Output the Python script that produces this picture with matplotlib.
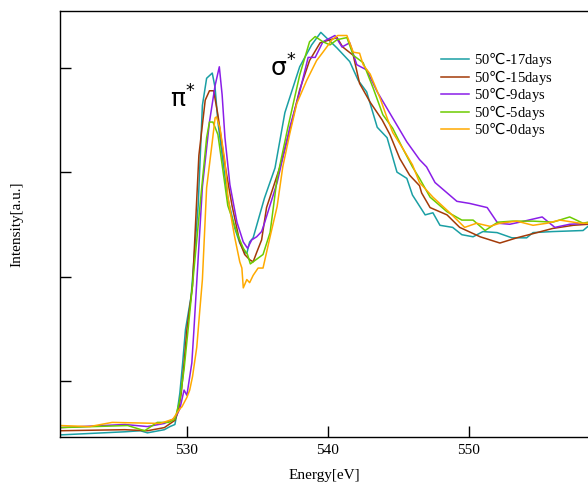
import matplotlib
matplotlib.use('Agg')
import matplotlib.pyplot as plt

plt.rcParams['font.family'] = ['Liberation Serif', 'DejaVu Sans']
plt.rcParams['mathtext.fontset'] = 'dejavusans'

# 50C-17days
e17 = [521.0, 525.6, 526.7, 527.2, 528.4, 528.8, 529.15, 529.3, 529.5, 529.7, 529.9, 530.3,
       530.8, 531.1, 531.4, 531.8, 532.0, 532.2, 532.5, 532.9, 533.4, 533.75, 534.1, 534.25,
       534.45, 534.7, 535.5, 536.25, 536.95, 538.0, 538.85, 539.5, 540.65, 541.55, 542.15,
       542.75, 543.5, 544.2, 544.9, 545.6, 546.0, 546.9, 547.45, 547.95, 548.85, 549.5,
       550.3, 551.0, 552.0, 553.05, 554.1, 554.55, 555.95, 558.1, 558.45]
i17 = [0.02, 0.05, 0.06, 0.04, 0.07, 0.10, 0.12, 0.23, 0.42, 0.71, 1.03, 1.35,
       2.22, 3.18, 3.44, 3.49, 3.35, 3.02, 2.70, 2.29, 2.00, 1.86, 1.77, 1.76,
       1.87, 1.91, 2.29, 2.58, 3.11, 3.55, 3.76, 3.88, 3.73, 3.60, 3.42,
       3.31, 2.97, 2.87, 2.54, 2.48, 2.32, 2.13, 2.15, 2.03, 2.01, 1.94,
       1.92, 1.97, 1.96, 1.91, 1.91, 1.96, 1.97, 1.98, 2.02]

# 50C-15days
e15 = [521.0, 525.6, 527.2, 528.4, 529.15, 529.4, 529.6, 529.8, 530.0, 530.4, 530.85, 531.3,
       531.6, 531.9, 532.2, 532.7, 533.2, 533.75, 534.1, 534.45, 534.7, 534.95, 535.3, 535.65,
       536.6, 537.3, 538.0, 538.7, 539.45, 540.65, 541.05, 541.8, 542.25, 543.0, 543.85,
       544.4, 545.1, 545.8, 546.5, 546.65, 547.25, 548.45, 549.35, 550.8, 552.2, 553.4,
       554.55, 555.95, 557.4, 558.45]
i15 = [0.06, 0.07, 0.06, 0.09, 0.16, 0.25, 0.42, 0.71, 1.03, 1.45, 2.70, 3.23,
       3.32, 3.32, 3.09, 2.61, 2.22, 1.87, 1.75, 1.70, 1.68, 1.77, 1.89, 2.20,
       2.59, 2.94, 3.33, 3.61, 3.78, 3.83, 3.74, 3.66, 3.39, 3.21, 3.04,
       2.90, 2.67, 2.51, 2.41, 2.34, 2.20, 2.13, 2.01, 1.92, 1.86, 1.91,
       1.95, 2.00, 2.03, 2.04]

# 50C-9days
e9 = [521.0, 525.6, 527.2, 528.4, 529.15, 529.5, 529.8, 530.0, 530.35, 530.5, 531.1, 531.6,
      532.0, 532.3, 532.5, 532.7, 533.05, 533.55, 534.0, 534.3, 534.6, 534.95, 535.3, 535.5,
      536.4, 537.3, 538.0, 538.6, 539.1, 539.65, 540.5, 541.0, 541.55, 542.05, 542.75,
      543.5, 544.2, 544.9, 545.6, 546.5, 547.0, 547.6, 549.15, 550.05, 551.3, 552.05,
      552.9, 553.6, 555.2, 556.1, 557.15, 558.45]
i9 = [0.09, 0.12, 0.10, 0.13, 0.18, 0.27, 0.45, 0.40, 0.71, 1.03, 2.40, 3.02,
      3.37, 3.55, 3.28, 2.87, 2.42, 2.06, 1.87, 1.81, 1.89, 1.92, 1.97, 2.05,
      2.44, 2.97, 3.31, 3.64, 3.64, 3.79, 3.85, 3.74, 3.78, 3.57, 3.52,
      3.31, 3.15, 2.99, 2.83, 2.66, 2.59, 2.44, 2.26, 2.24, 2.20, 2.05,
      2.04, 2.06, 2.11, 2.01, 2.04, 2.05]

# 50C-5days
e5 = [521.0, 525.8, 527.0, 527.9, 528.7, 529.15, 529.5, 529.8, 530.1, 530.5, 531.05, 531.4,
      531.6, 531.85, 532.2, 532.5, 532.9, 533.2, 533.6, 534.0, 534.3, 534.5, 535.2, 535.4,
      535.9, 536.4, 537.15, 538.0, 538.7, 539.1, 539.65, 540.15, 540.65, 541.35, 541.8,
      542.5, 543.2, 543.9, 544.6, 545.3, 546.0, 546.5, 547.25, 548.45, 549.5, 550.3,
      551.15, 552.05, 553.1, 554.55, 555.95, 557.15, 558.1, 558.45]
i5 = [0.09, 0.11, 0.06, 0.14, 0.14, 0.17, 0.35, 0.65, 1.05, 1.60, 2.39, 2.87,
      3.02, 3.02, 2.90, 2.61, 2.22, 2.10, 1.94, 1.81, 1.75, 1.66, 1.73, 1.75,
      1.96, 2.48, 2.96, 3.47, 3.79, 3.84, 3.79, 3.76, 3.81, 3.83, 3.66,
      3.59, 3.35, 3.09, 2.96, 2.77, 2.59, 2.48, 2.30, 2.16, 2.08, 2.08,
      1.98, 2.06, 2.07, 2.07, 2.06, 2.11, 2.05, 2.06]

# 50C-0days
e0 = [521.0, 523.1, 524.7, 528.1, 529.0, 529.5, 529.65, 530.0, 530.2, 530.4, 530.7, 530.9,
      531.1, 531.4, 531.8, 532.0, 532.1, 532.35, 532.7, 532.9, 533.2, 533.4, 533.75, 533.9,
      534.0, 534.25, 534.45, 534.7, 535.05, 535.4, 535.9, 536.4, 536.8, 537.3, 537.8,
      538.5, 539.2, 539.65, 540.3, 540.7, 541.35, 541.8, 542.25, 542.5, 543.0, 543.7,
      544.2, 544.6, 545.3, 546.0, 546.5, 547.45, 548.65, 549.7, 550.55, 551.5, 552.2,
      553.4, 554.55, 555.55, 556.45, 557.9, 558.45]
i0 = [0.11, 0.10, 0.14, 0.13, 0.17, 0.27, 0.29, 0.38, 0.45, 0.58, 0.86, 1.19,
      1.51, 2.39, 2.83, 3.06, 3.07, 2.96, 2.64, 2.32, 2.06, 1.91, 1.68, 1.62,
      1.43, 1.51, 1.48, 1.55, 1.62, 1.62, 1.92, 2.21, 2.59, 2.91, 3.20,
      3.42, 3.61, 3.69, 3.81, 3.85, 3.85, 3.69, 3.68, 3.57, 3.48, 3.25,
      3.06, 2.92, 2.77, 2.61, 2.44, 2.30, 2.15, 2.01, 2.05, 2.02, 2.05,
      2.07, 2.03, 2.05, 2.08, 2.05, 2.05]

series = [
    (e17, i17, '#1a9fa4', r'50$\mathrm{℃}$-17days'),
    (e15, i15, '#a33a08', r'50$\mathrm{℃}$-15days'),
    (e9, i9, '#8a1ee8', r'50$\mathrm{℃}$-9days'),
    (e5, i5, '#6ccc00', r'50$\mathrm{℃}$-5days'),
    (e0, i0, '#ffaa00', r'50$\mathrm{℃}$-0days'),
]

fig = plt.figure(figsize=(5.88, 4.83), dpi=100)
ax = fig.add_axes([60 / 588, 46 / 483, 528 / 588, 426 / 483])

for e, i, c, lab in series:
    ax.plot(e, i, color=c, lw=1.1, label=lab)

ax.set_xlim(521.0, 558.45)
ax.set_ylim(0.0, 4.085)
ax.set_xticks([530, 540, 550])
ax.set_yticks([0.537, 1.537, 2.537, 3.537])
ax.set_yticklabels([])
ax.tick_params(direction='in', length=8, width=1.0, labelsize=11, pad=5, top=False, right=False)
ax.spines['right'].set_visible(False)
for s in ['left', 'bottom', 'top']:
    ax.spines[s].set_linewidth(1.0)

ax.set_xlabel('Energy[eV]', fontsize=11, labelpad=9)
ax.set_ylabel('Intensity[a.u.]', fontsize=11, labelpad=21)

ax.text(528.8, 3.24, 'π$^{*}$', fontsize=18, ha='left', va='center', family='DejaVu Sans')
ax.text(535.9, 3.54, 'σ$^{*}$', fontsize=18, ha='left', va='center', family='DejaVu Sans')

ax.legend(loc='upper left', bbox_to_anchor=(0.722, 0.908), frameon=False,
          fontsize=10.5, handlelength=1.9, handletextpad=0.35, labelspacing=-0.1,
          borderpad=0, borderaxespad=0)

fig.savefig('out.png', dpi=100)
